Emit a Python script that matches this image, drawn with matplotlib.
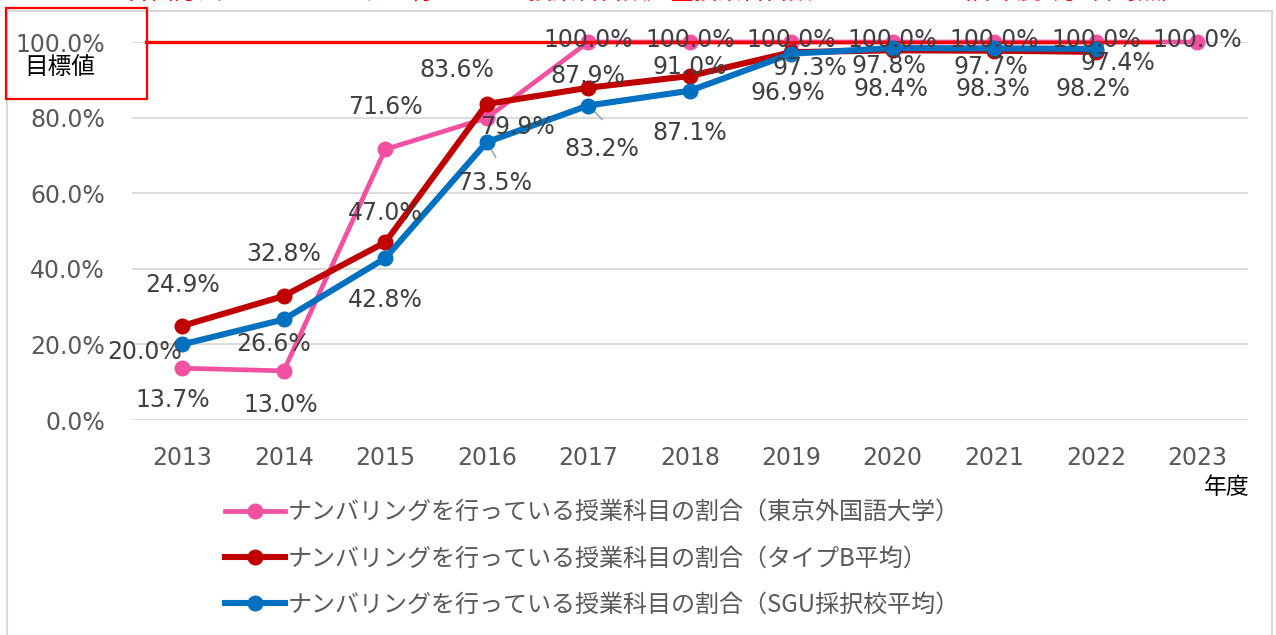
import matplotlib
matplotlib.use("Agg")
import matplotlib.pyplot as plt
from matplotlib.lines import Line2D
from matplotlib.patches import Rectangle

years = ["2013", "2014", "2015", "2016", "2017", "2018", "2019", "2020", "2021", "2022", "2023"]
tufs = [13.7, 13.0, 71.6, 79.9, 100.0, 100.0, 100.0, 100.0, 100.0, 100.0, 100.0]
typeb = [24.9, 32.8, 47.0, 83.6, 87.9, 91.0, 97.3, 97.8, 97.7, 97.4]
sgu = [20.0, 26.6, 42.8, 73.5, 83.2, 87.1, 96.9, 98.4, 98.3, 98.2]
target = 100.0
yticks = [0, 20, 40, 60, 80, 100]
labels = ["ナンバリングを行っている授業科目の割合（東京外国語大学）",
          "ナンバリングを行っている授業科目の割合（タイプB平均）",
          "ナンバリングを行っている授業科目の割合（SGU採択校平均）"]

CJK = ["Noto Sans CJK JP", "DejaVu Sans"]
W, H = 1276, 635
fig = plt.figure(figsize=(W / 100, H / 100), dpi=100)
ax = fig.add_axes([131.5 / W, 1 - 420 / H, (1248 - 131.5) / W, (420 - 42) / H])

pink, dred, blue = "#F250A0", "#C00000", "#0070C0"
xs = list(range(len(years)))

l1, = ax.plot(xs[:len(tufs)], tufs, color=pink, lw=3.4, marker="o", ms=10.5, zorder=2, clip_on=False)
ax.axhline(target, xmin=(146 - 131.5) / (1248 - 131.5), xmax=(1158 - 131.5) / (1248 - 131.5),
           color="#FF0000", lw=2.4, zorder=2.5, clip_on=False)
l2, = ax.plot(xs[:len(typeb)], typeb, color=dred, lw=4.4, marker="o", ms=10.5, zorder=3, clip_on=False)
l3, = ax.plot(xs[:len(sgu)], sgu, color=blue, lw=4.4, marker="o", ms=10.5, zorder=4, clip_on=False)

ax.set_xlim(-0.5, len(years) - 0.5)
ax.set_ylim(0, 100)
ax.set_xticks(xs)
ax.set_xticklabels(years)
ax.set_yticks(yticks)
ax.set_yticklabels([f"{v:.1f}%" for v in yticks])
ax.tick_params(axis="both", length=0, labelsize=17, labelcolor="#595959")
ax.tick_params(axis="y", pad=19)
ax.tick_params(axis="x", pad=19)
for s in ax.spines.values():
    s.set_visible(False)
ax.yaxis.grid(True, color="#d9d9d9", lw=1.3, zorder=0)
ax.set_axisbelow(True)

lab_col = "#404040"
def lab(x, v, dx, dy):
    ax.annotate(f"{v:.1f}%", (x, v), xytext=(dx, dy), textcoords="offset pixels",
                ha="center", va="center", fontsize=17, color=lab_col, zorder=6,
                annotation_clip=False)

pink_off = [(-10, -32), (-3, -34), (0, 42), (31, -9)] + [(0, 2)] * 7
red_off = [(0, 41), (0, 42), (0, 29), (-30, 34), (0, 12), (0, 9), (19, -16), (-4, -16), (-3, -16), (22, -11)]
blue_off = [(-38, -8), (-10, -25), (0, -42), (8, -41), (14, -43), (0, -42), (-3, -39), (-2, -41), (-1, -41), (-3, -40)]
for i, v in enumerate(tufs):
    lab(i, v, *pink_off[i])
for i, v in enumerate(typeb):
    lab(i, v, *red_off[i])
for i, v in enumerate(sgu):
    lab(i, v, *blue_off[i])
# leader lines
for i, (dx, dy) in [(3, (9, -15)), (4, (14, -14))]:
    ax.annotate("", (i, sgu[i]), xytext=(dx, dy), textcoords="offset pixels",
                arrowprops=dict(arrowstyle="-", color="#A6A6A6", lw=1.2, shrinkA=0, shrinkB=0),
                zorder=3.5, annotation_clip=False)

# chart frame
fc = "#d9d9d9"
fig.add_artist(Line2D([7 / W, 1272 / W], [1 - 11 / H, 1 - 11 / H], color=fc, lw=1.5))
fig.add_artist(Line2D([7 / W, 7 / W], [0, 1 - 11 / H], color=fc, lw=1.5))
fig.add_artist(Line2D([1272 / W, 1272 / W], [0, 1 - 11 / H], color=fc, lw=1.5))

# target box
fig.add_artist(Rectangle((6 / W, 1 - 99 / H), 141 / W, 91 / H, fill=False, ec="#FF0000", lw=1.6,
                         transform=fig.transFigure, zorder=10))
fig.text(60 / W, 1 - 68 / H, "目標値", ha="center", va="center", fontsize=17, color="black", family=CJK)
fig.text(1227 / W, 1 - 488 / H, "年度", ha="center", va="center", fontsize=16.5, color="black", family=CJK)

# red caption text, cut off at the top edge as in the reference
fig.text(127 / W, 1 - 3.5 / H, "算出方法：ナンバリングを行っている授業科目数／全授業科目数", ha="left", va="bottom",
         fontsize=17, color="#FF0000", family=CJK)
fig.text(947 / W, 1 - 3.5 / H, "（各年度5月1日時点）", ha="left", va="bottom",
         fontsize=17, color="#FF0000", family=CJK)

leg = fig.legend([l1, l2, l3], labels, loc="upper left", bbox_to_anchor=(225 / W, 1 - 499 / H),
                 frameon=False, borderpad=0, borderaxespad=0, handlelength=2.5, handletextpad=0.1,
                 labelspacing=0.85, prop={"family": CJK, "size": 17.3}, labelcolor="#595959")

fig.savefig("out.png", dpi=100)
